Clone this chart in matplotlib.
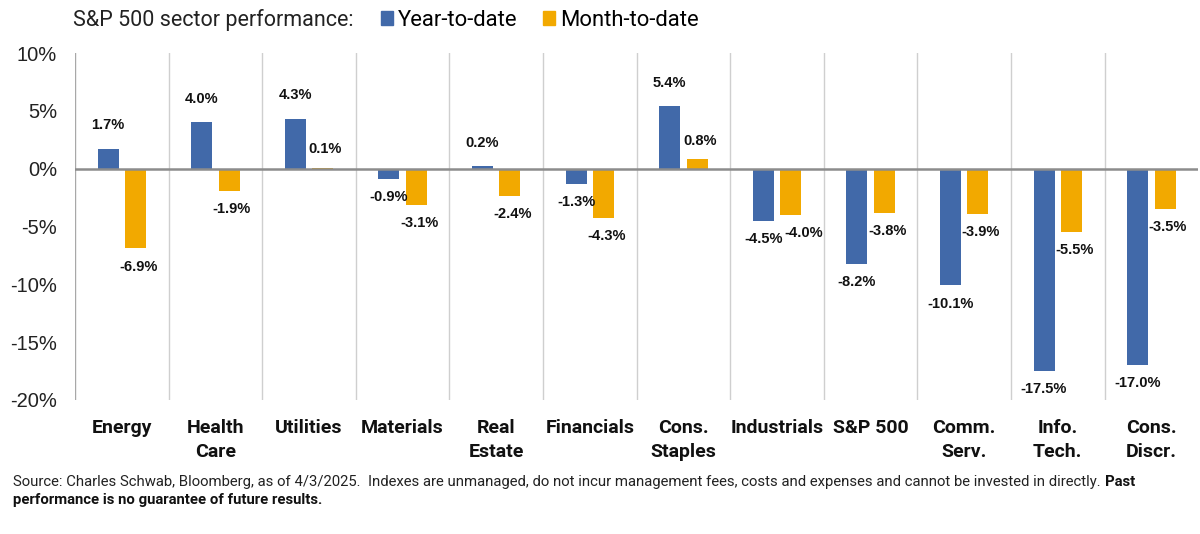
import numpy as np
import matplotlib
matplotlib.use("Agg")
import matplotlib.pyplot as plt
from matplotlib.patches import Patch

sectors = ["Energy", "Health\nCare", "Utilities", "Materials", "Real\nEstate",
           "Financials", "Cons.\nStaples", "Industrials", "S&P 500", "Comm.\nServ.",
           "Info.\nTech.", "Cons.\nDiscr."]
ytd = [1.7, 4.0, 4.3, -0.9, 0.2, -1.3, 5.4, -4.5, -8.2, -10.1, -17.5, -17.0]
mtd = [-6.9, -1.9, 0.1, -3.1, -2.4, -4.3, 0.8, -4.0, -3.8, -3.9, -5.5, -3.5]
yticks = [10, 5, 0, -5, -10, -15, -20]

BLUE = "#4169A9"
GOLD = "#F2A900"
NARROW = ["Roboto", "DejaVu Sans"]

plt.rcParams["font.family"] = ["Liberation Sans", "DejaVu Sans"]

fig = plt.figure(figsize=(12, 5.34), dpi=100)
ax = fig.add_axes([0.0625, 0.251, 0.936, 0.6497])

x = np.arange(len(sectors))
off, w = 0.147, 0.225
ax.bar(x - off, ytd, w, color=BLUE, zorder=3)
ax.bar(x + off, mtd, w, color=GOLD, zorder=3)

ax.set_xlim(-0.5, len(sectors) - 0.5)
ax.set_ylim(-20, 10)
ax.axhline(0, color="#8C8C8C", lw=1.8, zorder=4)
for b in np.arange(1, len(sectors)) - 0.5:
    ax.axvline(b, color="#CFCFCF", lw=1, zorder=1)
ax.axvline(-0.5, color="#A8A8A8", lw=1, zorder=1)

for s in ax.spines.values():
    s.set_visible(False)
ax.set_yticks(yticks)
ax.set_yticklabels([f"{t}%" for t in yticks], fontsize=14.5, color="#222222")
ax.tick_params(axis="y", length=0, pad=13)

ax.set_xticks(x)
ax.set_xticklabels(sectors, fontsize=14, fontweight="bold", family=NARROW,
                   linespacing=1.4, va="top", color="#111111")
ax.tick_params(axis="x", length=0, pad=14)

for i, v in enumerate(ytd):
    dy = 17 if v > 0 else -13
    ax.annotate(f"{v:.1f}%", (i - off, v), xytext=(0, dy), textcoords="offset points",
                ha="center", va="center", fontsize=10.5, fontweight="bold", color="#111111", zorder=5)
for i, v in enumerate(mtd):
    dy = 13 if v > 0 else -13
    dx = 9 if i == 7 else 2
    ax.annotate(f"{v:.1f}%", (i + off, v), xytext=(dx, dy), textcoords="offset points",
                ha="center", va="center", fontsize=10.5, fontweight="bold", color="#111111", zorder=5)

# title with inline legend
fig.text(0.061, 0.962, "S&P 500 sector performance:", fontsize=15.5, family=NARROW,
         va="center", color="#222222")
fig.legend(handles=[Patch(color=BLUE, label="Year-to-date"), Patch(color=GOLD, label="Month-to-date")],
           loc="center left", bbox_to_anchor=(0.3175, 0.962), ncol=2, frameon=False, borderpad=0,
           borderaxespad=0, handlelength=0.55, handleheight=0.55, handletextpad=0.2, columnspacing=1.2,
           prop={"family": NARROW, "size": 15.8})

src = ("Source: Charles Schwab, Bloomberg, as of 4/3/2025.  Indexes are unmanaged, do not incur management "
       "fees, costs and expenses and cannot be invested in directly. ")
t1 = fig.text(0.011, 0.090, src, fontsize=10.7, family=NARROW, va="baseline", color="#222222")
ax.annotate("Past", xy=(1, 0), xycoords=t1, xytext=(0, 0), textcoords="offset points",
            fontsize=10.7, fontweight="bold", family=NARROW, va="bottom", ha="left",
            color="#111111", annotation_clip=False)
fig.text(0.011, 0.057, "performance is no guarantee of future results.", fontsize=10.7, fontweight="bold",
         family=NARROW, va="baseline", color="#111111")

fig.savefig("out.png", dpi=100)
